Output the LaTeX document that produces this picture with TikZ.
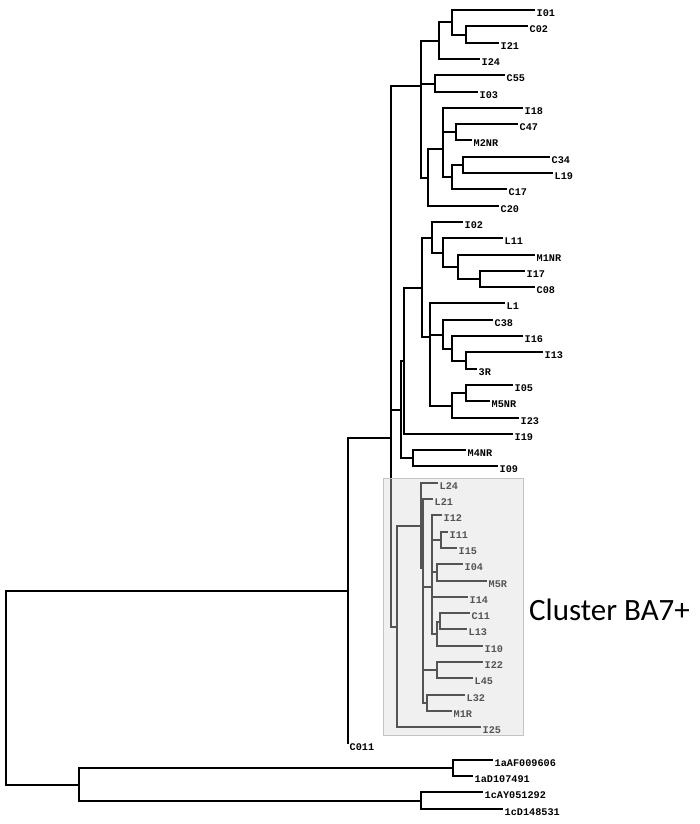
\documentclass[tikz,border=0pt]{standalone}
\usepackage{fontspec}
\newfontfamily\labfont{Liberation Mono}
\newfontfamily\carlitofont{Carlito}
\definecolor{boxov}{RGB}{217,217,217}
\definecolor{boxedge}{RGB}{195,195,195}
\tikzset{
  br/.style={line width=2pt, black, line join=miter},
  lab/.style={anchor=base west, inner sep=0pt, xshift=1.5pt, yshift=-6.6pt,
              font=\labfont\bfseries\fontsize{10.2}{10.2}\selectfont},
  clusterlab/.style={anchor=base west, inner sep=0pt,
              font=\carlitofont\fontsize{31}{31}\selectfont},
  overlay box/.style={fill=boxov, fill opacity=0.39},
  box edge/.style={draw=boxedge, line width=1pt}
}
\begin{document}
\begin{tikzpicture}[x=1pt,y=-1pt]
\useasboundingbox (0,0) rectangle (700,824);
% internal nodes
\foreach \n/\x/\y in {root/6/688, Z/348/591, A/391/438, U/421/86,
  n439/439/41, n452a/452/22, n466a/466/35, n435/435/84,
  n428/428/178, n443a/443/149, n456/456/132, n452b/452/177, n463/463/165,
  B/401/410, C/404/361, D/422/288, E/432/238, n443b/443/253,
  n458/458/267, n480/480/279, F/430/337, n443c/443/335, n452c/452/349,
  n466b/466/361, G/452/406, H/466/393, M/413/458,
  P/397/627, Q/421/526, R/423/568, S/432/587, n441/441/540,
  n437a/437/572, n437b/437/634, n440/440/622, n437c/437/670, n427/427/703,
  OG/79/785, n453/453/768, n421o/421/801}
  {\coordinate (\n) at (\x,\y);}
% leaves
\foreach \n/\x/\y/\t in {lI01/535/10/I01, lC02/528/26/C02, lI21/499/43/I21,
  lI24/480/59/I24, lC55/505/75/C55, lI03/478/92/I03, lI18/523/108/I18,
  lC47/518/124/C47, lM2NR/472/140/M2NR, lC34/550/157/C34, lL19/553/173/L19,
  lC17/507/189/C17, lC20/499/206/C20, lI02/463/222/I02, lL11/503/238/L11,
  lM1NR/535/255/M1NR, lI17/525/271/I17, lC08/535/287/C08, lL1/505/303/L1,
  lC38/493/320/C38, lI16/523/336/I16, lI13/543/352/I13, l3R/477/369/3R,
  lI05/513/385/I05, lM5NR/490/401/M5NR, lI23/519/418/I23, lI19/513/434/I19,
  lM4NR/466/450/M4NR, lI09/498/466/I09, lL24/438/483/L24, lL21/433/499/L21,
  lI12/442/515/I12, lI11/448/532/I11, lI15/457/548/I15, lI04/463/564/I04,
  lM5R/487/581/M5R, lI14/468/597/I14, lC11/470/613/C11, lL13/467/629/L13,
  lI10/483/646/I10, lI22/483/662/I22, lL45/473/678/L45, lL32/465/695/L32,
  lM1R/452/711/M1R, lI25/481/727/I25, lC011/348/744/C011,
  l1aAF/493/760/1aAF009606, l1aD/473/776/1aD107491,
  l1cAY/483/792/1cAY051292, l1cD/503/809/1cD148531}
  {\coordinate (\n) at (\x,\y);
   \node[lab] (t\n) at (\n) {\t};}
% branches
\foreach \p/\c in {root/Z, root/OG, Z/A, Z/lC011, A/U, A/B, A/P,
  U/n439, U/n435, U/n428,
  n439/n452a, n439/lI24, n452a/lI01, n452a/n466a, n466a/lC02, n466a/lI21,
  n435/lC55, n435/lI03,
  n428/n443a, n428/lC20, n443a/lI18, n443a/n456, n443a/n452b, n456/lC47, n456/lM2NR,
  n452b/n463, n452b/lC17, n463/lC34, n463/lL19,
  B/C, B/M, C/D, C/lI19, D/E, D/F, E/lI02, E/n443b, n443b/lL11, n443b/n458,
  n458/lM1NR, n458/n480, n480/lI17, n480/lC08,
  F/lL1, F/n443c, F/G, n443c/lC38, n443c/n452c, n452c/lI16, n452c/n466b,
  n466b/lI13, n466b/l3R, G/H, G/lI23, H/lI05, H/lM5NR,
  M/lM4NR, M/lI09,
  P/Q, P/lI25, Q/lL24, Q/R, R/lL21, R/S, R/n437c, R/n427,
  S/lI12, S/n441, S/n437a, S/lI14, S/n437b, n441/lI11, n441/lI15,
  n437a/lI04, n437a/lM5R, n437b/n440, n437b/lI10, n440/lC11, n440/lL13,
  n437c/lI22, n437c/lL45, n427/lL32, n427/lM1R,
  OG/n453, OG/n421o, n453/l1aAF, n453/l1aD, n421o/l1cAY, n421o/l1cD}
  {\draw[br] (\p) |- (\c);}
% cluster highlight box (translucent overlay)
\coordinate (boxNW) at (383,478);
\coordinate (boxSE) at (523,735);
\fill[overlay box] (boxNW) rectangle (boxSE);
\draw[box edge] (boxNW) rectangle (boxSE);
\node[clusterlab] (cluster) at (529,620) {Cluster BA7+};
\end{tikzpicture}
\end{document}
